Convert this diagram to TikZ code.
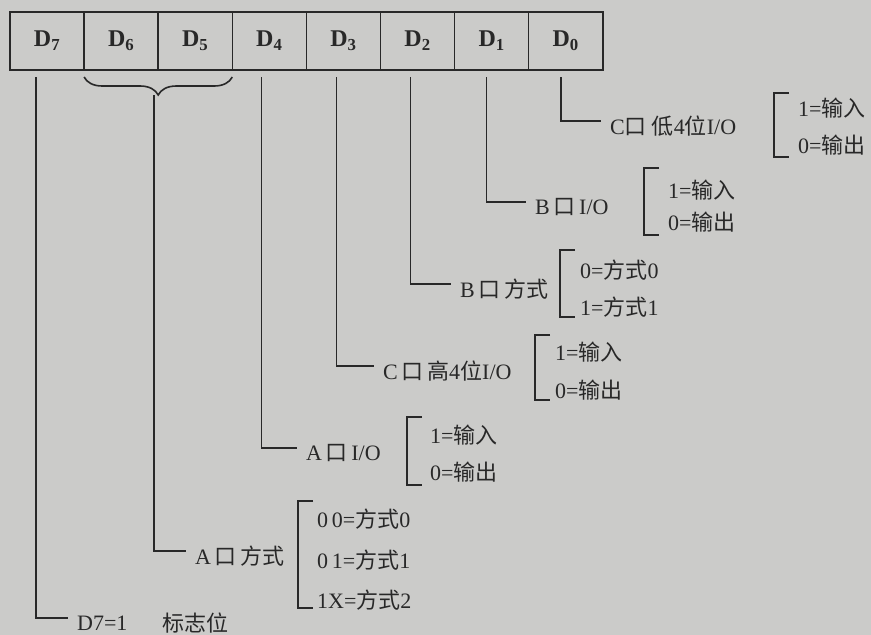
\documentclass[tikz,border=0pt]{standalone}
\usepackage{fontspec}
\setmainfont{Liberation Serif}
\newfontfamily\cjk{Noto Sans CJK SC}
\usetikzlibrary{decorations.pathreplacing}
\definecolor{paper}{RGB}{203,203,201}
\definecolor{ink}{RGB}{40,40,40}
\newcommand{\zh}[1]{{\cjk #1}}
\newcommand{\sqbrk}[3]{\draw[brk] ({#1+15},#2) -| (#1,#3) -- ({#1+15},#3);}
\begin{document}
\begin{tikzpicture}[x=1pt,y=-1pt,
  every node/.style={font=\fontsize{22}{24}\selectfont, text=ink},
  cell/.style={draw=ink, line width=1.5pt, minimum width=74.1pt, minimum height=58pt, inner sep=0pt, outer sep=0pt, font=\fontsize{24}{26}\selectfont\bfseries},
  lbl/.style={anchor=west, inner sep=0pt},
  link/.style={draw=ink, line width=1.6pt, shorten >=9pt, shorten <=7pt},
  brk/.style={draw=ink, line width=1.6pt}]
\fill[paper] (0,0) rectangle (871,635);
\useasboundingbox (0,0) rectangle (871,635);
% register cells
\node[cell] (d7) at (47.05,41) {D\textsubscript{7}};
\node[cell] (d6) at (121.15,41) {D\textsubscript{6}};
\node[cell] (d5) at (195.25,41) {D\textsubscript{5}};
\node[cell] (d4) at (269.35,41) {D\textsubscript{4}};
\node[cell] (d3) at (343.45,41) {D\textsubscript{3}};
\node[cell] (d2) at (417.55,41) {D\textsubscript{2}};
\node[cell] (d1) at (491.65,41) {D\textsubscript{1}};
\node[cell] (d0) at (565.75,41) {D\textsubscript{0}};
% brace under D6 D5
\draw[brk, decorate, decoration={brace, mirror, amplitude=18pt}] (d6.south west) ++(0,7) -- ([yshift=-7pt]d5.south east);
\coordinate (tip) at (154,95);
% labels
\node[lbl] (l0) at (610,126) {C\zh{口}\hspace{5pt}\zh{低}4\zh{位}I/O};
\node[lbl] (l1) at (535,207) {B\,\zh{口}\,I/O};
\node[lbl] (l2) at (460,289) {B\,\zh{口}\,\zh{方式}};
\node[lbl] (l3) at (383,371) {C\,\zh{口}\,\zh{高}4\zh{位}I/O};
\node[lbl] (l4) at (306,453) {A\,\zh{口}\,I/O};
\node[lbl] (l65) at (195,556) {A\,\zh{口}\,\zh{方式}};
\node[lbl] (l7) at (77,623) {D7=1};
\node[lbl] (l7b) at (162,623) {\zh{标志位}};
% connectors
\draw[link] ([xshift=-5pt]d0.south) |- ([yshift=5pt]l0.west);
\draw[link] ([xshift=-5pt]d1.south) |- ([yshift=5pt]l1.west);
\draw[link] ([xshift=-7pt]d2.south) |- ([yshift=5pt]l2.west);
\draw[link] ([xshift=-7pt]d3.south) |- ([yshift=5pt]l3.west);
\draw[link] ([xshift=-8pt]d4.south) |- ([yshift=5pt]l4.west);
\draw[link, shorten <=0pt] (tip) |- ([yshift=5pt]l65.west);
\draw[link] ([xshift=-11pt]d7.south) |- ([yshift=5pt]l7.west);
% options
\sqbrk{774}{93}{157}
\node[lbl] (o01) at (798,108) {1=\zh{输入}};
\node[lbl] (o00) at (798,145) {0=\zh{输出}};
\sqbrk{644}{168}{235}
\node[lbl] (o11) at (668,190) {1=\zh{输入}};
\node[lbl] (o10) at (668,222) {0=\zh{输出}};
\sqbrk{560}{250}{317}
\node[lbl] (o20) at (580,270) {0=\zh{方式}0};
\node[lbl] (o21) at (580,307) {1=\zh{方式}1};
\sqbrk{535}{335}{400}
\node[lbl] (o31) at (555,352) {1=\zh{输入}};
\node[lbl] (o30) at (555,390) {0=\zh{输出}};
\sqbrk{407}{417}{485}
\node[lbl] (o41) at (430,435) {1=\zh{输入}};
\node[lbl] (o40) at (430,472) {0=\zh{输出}};
\sqbrk{298}{501}{608}
\node[lbl] (o650) at (317,519) {0\,0=\zh{方式}0};
\node[lbl] (o651) at (317,560) {0\,1=\zh{方式}1};
\node[lbl] (o652) at (317,600) {1X=\zh{方式}2};
\end{tikzpicture}
\end{document}
